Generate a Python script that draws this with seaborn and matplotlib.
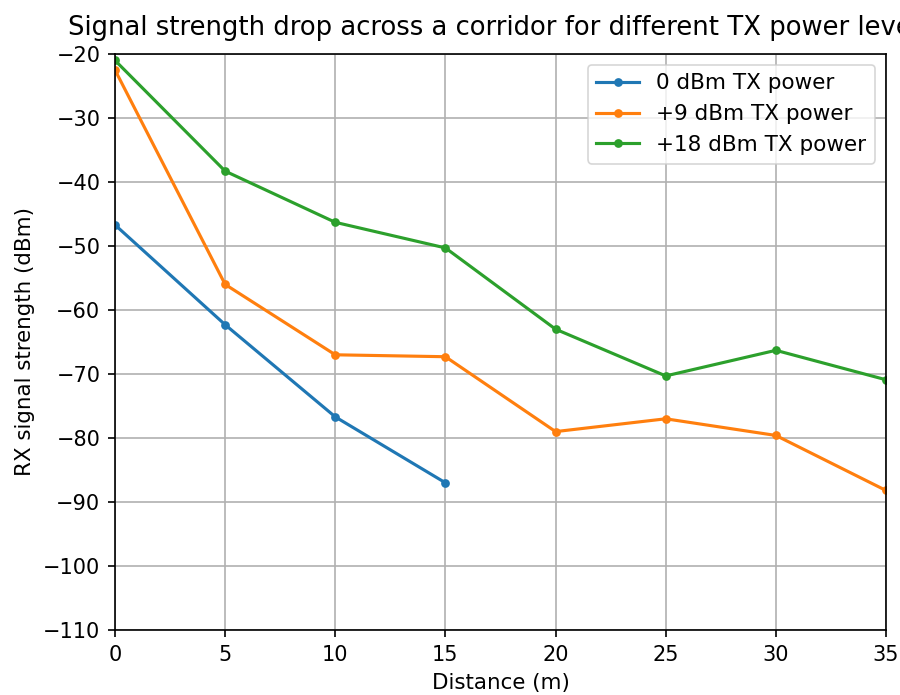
import matplotlib
matplotlib.use("Agg")
import matplotlib.pyplot as plt
import seaborn as sns
import pandas as pd

distance_0 = [0, 5, 10, 15]
rx_0dbm = [-46.7, -62.3, -76.7, -87.0]
distance_9 = [0, 5, 10, 15, 20, 25, 30, 35]
rx_9dbm = [-22.5, -56.0, -67.0, -67.3, -79.0, -77.0, -79.6, -88.2]
distance_18 = [0, 5, 10, 15, 20, 25, 30, 35]
rx_18dbm = [-21.0, -38.3, -46.3, -50.3, -63.0, -70.3, -66.3, -70.9]
labels = ["0 dBm TX power", "+9 dBm TX power", "+18 dBm TX power"]
colors = ["#1f77b4", "#ff7f0e", "#2ca02c"]

frames = []
for d, v, lab in [(distance_0, rx_0dbm, labels[0]),
                  (distance_9, rx_9dbm, labels[1]),
                  (distance_18, rx_18dbm, labels[2])]:
    frames.append(pd.DataFrame({"Distance": d, "RX": v, "Series": lab}))
df = pd.concat(frames, ignore_index=True)

s = 1.5
plt.rcParams.update({
    "font.family": ["DejaVu Sans"],
    "font.size": 10 * s,
    "xtick.major.size": 3.5 * s,
    "ytick.major.size": 3.5 * s,
    "xtick.major.pad": 3.5 * s,
    "ytick.major.pad": 3.5 * s,
    "xtick.major.width": 0.8 * s,
    "ytick.major.width": 0.8 * s,
    "axes.linewidth": 0.8 * s,
    "axes.labelpad": 4 * s,
    "grid.linewidth": 0.8 * s,
    "grid.color": "#b0b0b0",
    "legend.handlelength": 2.0,
})

fig = plt.figure(figsize=(9, 6.95), dpi=100)
ax = fig.add_axes([115 / 900, 65 / 695, (886 - 115) / 900, (630 - 54) / 695])

sns.lineplot(data=df, x="Distance", y="RX", hue="Series", hue_order=labels,
             palette=colors, marker="o", markersize=4.2 * s, markeredgewidth=0,
             linewidth=1.5 * s, ax=ax, estimator=None, sort=False)

ax.set_xlim(0, 35)
ax.set_ylim(-110, -20)
ax.set_xticks(range(0, 36, 5))
ax.set_yticks(range(-110, -19, 10))
ax.grid(True)
ax.set_axisbelow(True)
ax.tick_params(labelsize=15)
ax.set_xlabel("Distance (m)", fontsize=15.4)
ax.set_ylabel("RX signal strength (dBm)", fontsize=15.4)
ax.set_title("Signal strength drop across a corridor for different TX power levels",
             fontsize=18.6, pad=14)
leg = ax.legend(loc="upper right", fontsize=15.5, title=None)
leg.get_frame().set_linewidth(0.8 * s)

fig.savefig("out.png", dpi=100)
